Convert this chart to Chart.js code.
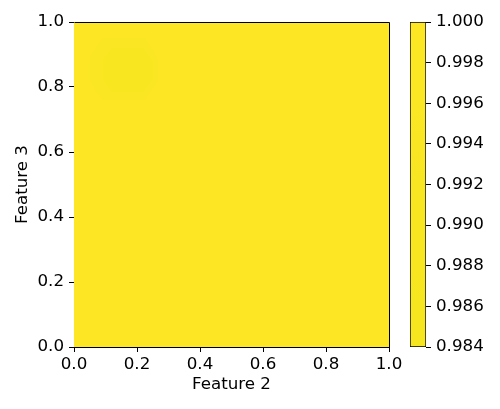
<!DOCTYPE html>
<html>
<head>
<meta charset="utf-8">
<script src="https://cdn.jsdelivr.net/npm/chart.js@4/dist/chart.umd.min.js"></script>
<style>
  html, body { margin: 0; padding: 0; background: #fff; }
  #wrap { position: relative; width: 500px; height: 409px; }
  #heat { position: absolute; left: 0; top: 0; }
  #cbar { position: absolute; left: 400px; top: 0; }
</style>
</head>
<body>
<div id="wrap">
  <canvas id="heat" width="500" height="409"></canvas>
  <canvas id="cbar" width="100" height="409"></canvas>
</div>
<script>
// contour levels shown on the colorbar
var levels = [0.984, 0.986, 0.988, 0.990, 0.992, 0.994, 0.996, 0.998, 1.000];
var axisTicks = [0, 0.2, 0.4, 0.6, 0.8, 1.0];

// filled regions (data space) and the value of each band
var regionValues = [0.999, 0.993, 0.988];
var regionX = [
  [0, 1, 1, 0, 0],
  [0.09, 0.225, 0.265, 0.265, 0.225, 0.09, 0.05, 0.05, 0.09],
  [0.122, 0.218, 0.248, 0.248, 0.218, 0.122, 0.092, 0.092, 0.122]
];
var regionY = [
  [0, 0, 1, 1, 0],
  [0.95, 0.95, 0.89, 0.82, 0.76, 0.76, 0.82, 0.89, 0.95],
  [0.92, 0.92, 0.88, 0.825, 0.785, 0.785, 0.825, 0.88, 0.92]
];

// tail of viridis (value 0..1)
var vir = [[0.96, [236,229,27]], [0.97, [241,229,29]], [0.98, [244,230,30]],
           [0.99, [248,230,33]], [1.0, [253,231,37]]];
function cmap(v) {
  if (v <= vir[0][0]) return 'rgb(' + vir[0][1].join(',') + ')';
  for (var i = 1; i < vir.length; i++) {
    if (v <= vir[i][0]) {
      var t = (v - vir[i-1][0]) / (vir[i][0] - vir[i-1][0]);
      var c = vir[i-1][1].map(function (a, k) { return Math.round(a + t * (vir[i][1][k] - a)); });
      return 'rgb(' + c.join(',') + ')';
    }
  }
  return 'rgb(' + vir[vir.length-1][1].join(',') + ')';
}

var font = { family: 'DejaVu Sans', size: 16.7 };
Chart.defaults.color = '#000';

var datasets = regionValues.map(function (v, i) {
  return {
    label: 'level ' + v,
    data: regionX[i].map(function (x, k) { return { x: x, y: regionY[i][k] }; }),
    showLine: true,
    fill: 'shape',
    backgroundColor: cmap(v),
    borderWidth: 0,
    pointRadius: 0,
    tension: 0,
    order: regionValues.length - i
  };
});

// top and right spines (left/bottom come from the axis borders)
function align(p) { return Math.round(p - 0.5) + 0.5; }
var frame = {
  id: 'frame',
  afterDatasetsDraw: function (chart) {
    var xs = chart.scales.x, ys = chart.scales.y, c = chart.ctx;
    var l = align(xs.getPixelForValue(0)), r = align(xs.getPixelForValue(1));
    var b = align(ys.getPixelForValue(0)), t = align(ys.getPixelForValue(1));
    c.save();
    c.strokeStyle = '#000';
    c.lineWidth = 1;
    c.beginPath();
    c.moveTo(l, t); c.lineTo(r, t); c.lineTo(r, b);
    c.stroke();
    c.restore();
  }
};

new Chart(document.getElementById('heat'), {
  type: 'scatter',
  data: { datasets: datasets },
  plugins: [frame],
  options: {
    responsive: false,
    animation: false,
    events: [],
    layout: { padding: { left: 0, top: 22, right: 111, bottom: 0 } },
    plugins: { legend: { display: false }, tooltip: { enabled: false } },
    scales: {
      x: {
        type: 'linear', position: 'bottom', min: 0, max: 1,
        afterBuildTicks: function (s) { s.ticks = axisTicks.map(function (v) { return { value: v }; }); },
        ticks: { font: font, padding: 3, callback: function (v) { return v.toFixed(1); } },
        grid: { drawOnChartArea: false, color: '#000', tickLength: 5 },
        border: { color: '#000', width: 1 },
        title: { display: true, text: 'Feature 2', font: font, padding: { top: 0, bottom: 14 } },
        afterFit: function (s) { s.height = 62; }
      },
      y: {
        type: 'linear', position: 'left', min: 0, max: 1,
        afterBuildTicks: function (s) { s.ticks = axisTicks.map(function (v) { return { value: v }; }); },
        ticks: { font: font, padding: 5, callback: function (v) { return v.toFixed(1); } },
        grid: { drawOnChartArea: false, color: '#000', tickLength: 5 },
        border: { color: '#000', width: 1 },
        title: { display: true, text: 'Feature 3', font: font, padding: { top: 13, bottom: 0 } },
        afterFit: function (s) { s.width = 74; }
      }
    }
  }
});

new Chart(document.getElementById('cbar'), {
  type: 'bar',
  data: {
    labels: [''],
    datasets: [{
      data: [[levels[0], levels[levels.length - 1]]],
      backgroundColor: function (ctx) {
        var area = ctx.chart.chartArea;
        if (!area) return cmap(1);
        var g = ctx.chart.ctx.createLinearGradient(0, area.bottom, 0, area.top);
        levels.forEach(function (v, i) { g.addColorStop(i / (levels.length - 1), cmap(v)); });
        return g;
      },
      borderColor: '#000',
      borderWidth: 1,
      borderSkipped: false,
      barPercentage: 1,
      categoryPercentage: 1
    }]
  },
  options: {
    responsive: false,
    animation: false,
    events: [],
    layout: { padding: { left: 10, top: 22, right: 0, bottom: 62 } },
    plugins: { legend: { display: false }, tooltip: { enabled: false } },
    scales: {
      x: { display: false },
      y: {
        position: 'right', min: levels[0], max: levels[levels.length - 1],
        afterBuildTicks: function (s) { s.ticks = levels.map(function (v) { return { value: v }; }); },
        ticks: { font: font, padding: 5, callback: function (v) { return Number(v).toFixed(3); } },
        grid: { drawOnChartArea: false, color: '#000', tickLength: 5 },
        border: { display: false },
        afterFit: function (s) { s.width = 74; }
      }
    }
  }
});
</script>
</body>
</html>
